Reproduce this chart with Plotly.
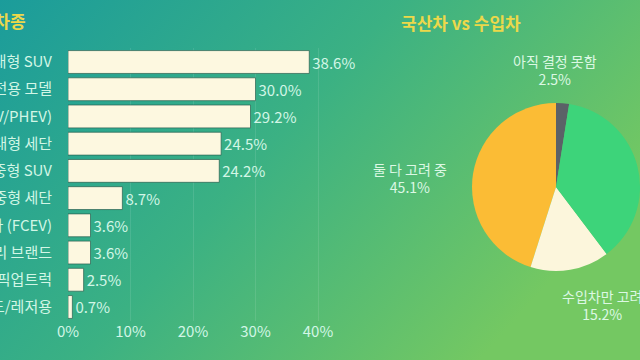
import base64
import plotly.graph_objects as go

# ---- data ----
car_types = ["준대형 SUV", "전기차 전용 모델", "하이브리드(HEV/PHEV)", "준대형 세단", "중형 SUV",
             "준중형 세단", "수소차 (FCEV)", "럭셔리 브랜드", "픽업트럭", "오프로드/레저용"]
car_shares = [38.6, 30.0, 29.2, 24.5, 24.2, 8.7, 3.6, 3.6, 2.5, 0.7]
x_ticks = [0, 10, 20, 30, 40]
x_tick_labels = ["0%", "10%", "20%", "30%", "40%"]

pie_labels = ["아직 결정 못함", "둘 다 고려 중", "수입차만 고려", "국산차만 고려"]
pie_values = [2.5, 45.1, 15.2, 37.2]
pie_colors = ["#5b6167", "#fbbc35", "#fcf6dc", "#3dd47a"]

title_left = "구매 희망 차종"
title_right = "국산차 vs 수입차"

FONT = "Noto Sans CJK KR"
MINT = "#d2f6e6"

W, H = 640, 360

svg = f'''<svg xmlns="http://www.w3.org/2000/svg" width="{W}" height="{H}" viewBox="0 0 {W} {H}" preserveAspectRatio="none">
<defs><linearGradient id="g" x1="0" y1="0" x2="1" y2="0.5">
<stop offset="0" stop-color="#1b9c9b"/>
<stop offset="0.5" stop-color="#3bb183"/>
<stop offset="1" stop-color="#74c862"/>
</linearGradient></defs>
<rect width="{W}" height="{H}" fill="url(#g)"/></svg>'''
bg_uri = "data:image/svg+xml;base64," + base64.b64encode(svg.encode()).decode()

fig = go.Figure()

fig.add_trace(go.Bar(
    x=car_shares, y=car_types, orientation="h",
    marker=dict(color="#fdf8e0", line=dict(color="rgba(40,95,80,0.7)", width=1)),
    text=[f"{v:.1f}%" for v in car_shares], textposition="outside",
    textfont=dict(family=FONT, size=15, color=MINT),
    constraintext="none", cliponaxis=False, width=0.84,
    xaxis="x", yaxis="y", showlegend=False, hoverinfo="skip",
))

pie_dom_x = [472 / W, 1.0]
pie_dom_y = [89 / H, 257 / H]
fig.add_trace(go.Pie(
    labels=pie_labels, values=pie_values, sort=False,
    direction="counterclockwise", rotation=0,
    marker=dict(colors=pie_colors, line=dict(width=0)),
    textinfo="none",
    domain=dict(x=pie_dom_x, y=pie_dom_y),
    showlegend=False, hoverinfo="skip", automargin=False,
))

# label positions for the visible pie slices (text placement, in pixels)
pie_label_pos = {0: (555, 70), 1: (410, 178), 2: (602, 305)}
annotations = [
    dict(text=f"<b>{title_left}</b>", xref="paper", yref="paper",
         x=28 / W, y=1 - 20 / H, xanchor="right", yanchor="middle", showarrow=False,
         font=dict(family=FONT, size=17, color="#ecd84a")),
    dict(text=f"<b>{title_right}</b>", xref="paper", yref="paper",
         x=399 / W, y=1 - 22 / H, xanchor="left", yanchor="middle", showarrow=False,
         font=dict(family=FONT, size=17, color="#ecd84a")),
]
for i, (px, py) in pie_label_pos.items():
    annotations.append(dict(
        text=f"{pie_labels[i]}<br>{pie_values[i]:.1f}%", xref="paper", yref="paper",
        x=px / W, y=1 - py / H, xanchor="center", yanchor="middle", showarrow=False,
        align="center", font=dict(family=FONT, size=14, color="#dcf8e4")))

x_px0 = 68
px_per = 6.25
x_max = 45
fig.update_layout(
    width=W, height=H, margin=dict(l=0, r=0, t=0, b=0, autoexpand=False),
    showlegend=False,
    paper_bgcolor="#3bb183", plot_bgcolor="rgba(0,0,0,0)",
    font=dict(family=FONT, color=MINT),
    images=[dict(source=bg_uri, xref="paper", yref="paper", x=0, y=1,
                 sizex=1, sizey=1, sizing="stretch", layer="below")],
    xaxis=dict(domain=[x_px0 / W, (x_px0 + x_max * px_per) / W], range=[0, x_max],
               tickvals=x_ticks, ticktext=x_tick_labels, showgrid=True,
               gridcolor="rgba(255,255,255,0.10)", zeroline=False, showline=False,
               tickfont=dict(family=FONT, size=15, color=MINT), automargin=False),
    yaxis=dict(domain=[1 - 320.6 / H, 1 - 48.4 / H], autorange="reversed",
               categoryorder="array", categoryarray=car_types,
               ticks="outside", ticklen=12, tickcolor="rgba(0,0,0,0)",
               showgrid=False, zeroline=False, showline=False,
               tickfont=dict(family=FONT, size=15, color=MINT), automargin=False),
    bargap=0.16,
    annotations=annotations,
)

fig.write_html("out.html")
